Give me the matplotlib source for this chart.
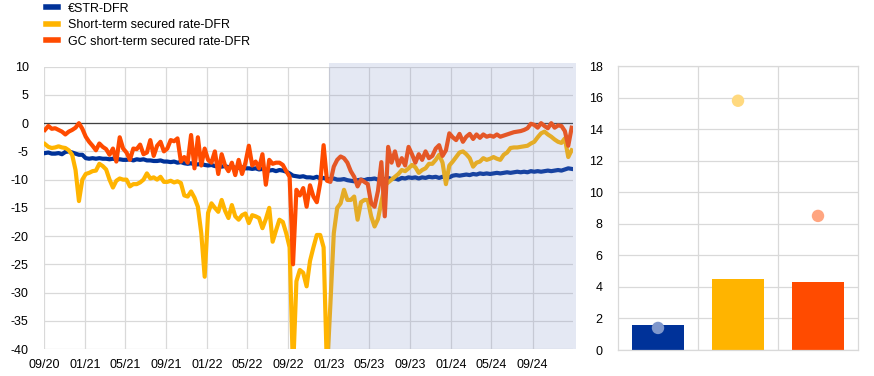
import matplotlib
matplotlib.use("Agg")
import matplotlib.pyplot as plt
import matplotlib.dates as mdates
from matplotlib.patches import Rectangle
import pandas as pd

plt.rcParams['font.family'] = ['Liberation Sans', 'DejaVu Sans']
plt.rcParams['font.size'] = 9
plt.rcParams['axes.unicode_minus'] = False

# spreads to the DFR, basis points, three readings per month, Sep 2020 - Dec 2024
estr = [
    -5.3, -5.2, -5.4, -5.4, -5.3, -5.5, -5.1, -5.0, -5.2, -5.4, -5.6, -5.6,
    -6.2, -6.3, -6.2, -6.3, -6.2, -6.3, -6.3, -6.4, -6.3, -6.4, -6.4, -6.5,
    -6.5, -6.4, -6.6, -6.4, -6.5, -6.4, -6.6, -6.6, -6.7, -6.7, -6.6, -6.8,
    -6.8, -6.9, -6.8, -7.0, -6.9, -7.1, -7.2, -7.1, -7.3, -7.3, -7.2, -7.4,
    -7.5, -7.4, -7.6, -7.6, -7.7, -7.6, -7.8, -7.7, -7.9, -7.9, -7.8, -8.0,
    -8.0, -8.1, -8.0, -8.2, -8.1, -8.3, -8.4, -8.3, -8.5, -8.3, -8.4, -8.6,
    -8.9, -9.3, -9.4, -9.5, -9.4, -9.6, -9.6, -9.7, -9.5, -9.8, -9.7, -9.9,
    -9.9, -9.8, -10.0, -10.0, -9.9, -10.1, -10.2, -10.3, -10.1, -10.0, -10.1, -9.9,
    -9.9, -9.8, -10.0, -9.8, -9.9, -9.7, -9.9, -9.8, -10.0, -9.7, -9.8, -9.6,
    -9.7, -9.6, -9.8, -9.6, -9.7, -9.5, -9.6, -9.5, -9.7, -9.5, -9.4, -9.6,
    -9.3, -9.2, -9.3, -9.2, -9.1, -9.2, -9.0, -9.1, -8.9, -9.0, -8.9, -9.0,
    -8.9, -8.8, -8.9, -8.8, -8.7, -8.8, -8.7, -8.6, -8.7, -8.6, -8.7, -8.5,
    -8.6, -8.5, -8.6, -8.5, -8.4, -8.5, -8.4, -8.3, -8.4, -8.2, -8.0, -8.1,
]

str_rate = [
    -3.7, -4.2, -4.4, -4.3, -4.1, -4.3, -4.4, -4.8, -5.6, -8.3, -13.8, -10.0,
    -9.0, -8.8, -8.5, -8.4, -7.2, -7.6, -8.2, -10.0, -11.4, -10.2, -9.8, -10.0,
    -10.0, -11.2, -10.8, -10.8, -10.5, -10.0, -8.9, -9.8, -9.6, -10.0, -9.5, -10.4,
    -10.4, -10.2, -10.5, -10.3, -10.6, -12.8, -13.0, -12.1, -13.2, -14.8, -19.5, -27.2,
    -15.9, -14.2, -15.0, -15.7, -13.6, -15.5, -16.8, -14.5, -16.5, -17.1, -16.3, -16.0,
    -17.7, -16.3, -16.5, -16.8, -18.6, -17.0, -15.0, -21.0, -19.0, -17.1, -17.5, -19.5,
    -22.0, -44.0, -28.0, -26.0, -26.5, -28.9, -24.4, -22.0, -19.8, -19.8, -22.0, -44.0,
    -32.0, -19.5, -15.0, -14.2, -11.8, -13.6, -13.6, -13.0, -17.1, -14.0, -13.6, -13.6,
    -16.5, -18.3, -17.0, -14.0, -11.0, -10.5, -10.0, -9.5, -9.0, -8.3, -8.5, -8.0,
    -7.4, -7.8, -8.8, -8.3, -8.0, -7.2, -7.2, -6.5, -5.6, -7.0, -10.8, -7.5,
    -6.8, -6.0, -5.2, -5.0, -5.5, -6.2, -7.7, -7.0, -6.8, -6.2, -6.5, -6.3,
    -6.0, -6.3, -6.5, -5.6, -5.2, -4.4, -4.3, -4.3, -4.2, -4.1, -4.0, -3.6,
    -3.3, -2.5, -1.8, -1.5, -2.0, -2.4, -2.9, -3.3, -3.5, -2.7, -6.0, -4.8,
]

gc_rate = [
    -1.2, -0.5, -1.0, -0.9, -1.2, -1.5, -2.0, -1.5, -1.2, -0.8, 0.0, -1.0,
    -2.4, -3.3, -4.0, -4.8, -3.6, -4.2, -4.6, -5.6, -4.5, -6.8, -2.5, -4.5,
    -5.2, -6.5, -4.5, -4.6, -3.8, -5.5, -5.2, -3.0, -5.8, -4.0, -3.3, -5.0,
    -4.5, -3.0, -3.2, -2.7, -6.8, -6.0, -7.0, -2.1, -8.0, -2.5, -7.5, -4.5,
    -6.5, -7.0, -5.0, -9.0, -5.5, -7.5, -8.5, -7.0, -9.2, -6.5, -9.0, -7.0,
    -4.0, -7.5, -6.8, -8.0, -5.5, -10.9, -6.5, -7.2, -7.0, -7.0, -7.4, -8.5,
    -9.5, -25.0, -11.8, -12.8, -11.5, -14.8, -11.0, -13.0, -14.0, -10.6, -3.9, -10.2,
    -10.4, -7.7, -6.5, -5.9, -6.2, -7.0, -8.5, -9.5, -11.2, -10.0, -10.4, -10.8,
    -14.2, -14.8, -12.0, -6.9, -16.5, -4.2, -7.0, -5.0, -7.5, -6.2, -7.5, -4.2,
    -5.5, -7.0, -5.5, -6.5, -5.0, -6.2, -5.8, -4.5, -3.9, -5.8, -4.8, -1.8,
    -2.5, -3.0, -1.9, -3.3, -2.4, -1.9, -2.8, -2.0, -2.6, -2.0, -2.4, -2.2,
    -2.4, -2.0, -2.4, -2.2, -2.0, -1.8, -1.6, -1.5, -1.4, -1.2, -0.9, -0.1,
    -0.3, -0.8, 0.0, -0.5, -0.9, 0.0, -0.8, -0.4, -0.5, -1.4, -4.0, -0.8,
]

series_labels = ['€STR-DFR', 'Short-term secured rate-DFR', 'GC short-term secured rate-DFR']
series_colors = ['#003299', '#ffb400', '#ff4b00']

# right panel: bars and dots
bar_values = [1.6, 4.5, 4.3]
dot_values = [1.4, 15.8, 8.5]
dot_colors = ['#7f97cc', '#ffd97f', '#ffa580']

shade_start = pd.Timestamp('2023-01-01')
x_start = pd.Timestamp('2020-09-01')
x_end = pd.Timestamp('2024-12-31')

fig = plt.figure(figsize=(8.74, 3.76), dpi=100)
ax = fig.add_axes([0.0503, 0.0718, 0.6053, 0.7508])
ax2 = fig.add_axes([0.7071, 0.0691, 0.2746, 0.7553])

grid_color = '#d9d9d9'

for vals, lab, col in zip([estr, str_rate, gc_rate], series_labels, series_colors):
    dates = pd.date_range('2020-09-04', '2024-12-27', periods=len(vals))
    ax.plot(dates, vals, color=col, lw=3.0, label=lab, solid_joinstyle='round')

ax.axhline(0, color='#404040', lw=0.9, zorder=1)
ax.set_xlim(x_start, x_end)
ax.set_ylim(-40, 10)
ax.set_yticks(range(-40, 11, 5))
ax.xaxis.set_major_locator(mdates.MonthLocator(bymonth=[1, 5, 9]))
ax.xaxis.set_major_formatter(mdates.DateFormatter('%m/%y'))
ax.grid(True, color=grid_color, lw=0.9, zorder=0)
ax.set_axisbelow(True)
ax.tick_params(length=0, labelsize=9, colors='#000000')
ax.tick_params(axis='x', pad=7)
ax.tick_params(axis='y', pad=11)
for sp in ax.spines.values():
    sp.set_visible(False)

# shaded period drawn over the lines
x0 = mdates.date2num(shade_start)
x1 = mdates.date2num(x_end)
xa = (x0 - mdates.date2num(x_start)) / (x1 - mdates.date2num(x_start))
ax.add_patch(Rectangle((xa, 0), 1.005 - xa, 1.012, transform=ax.transAxes,
                       facecolor='#7a8cc4', alpha=0.2, edgecolor='none',
                       clip_on=False, zorder=5))

leg = fig.legend(loc='upper left', bbox_to_anchor=(0.051, 0.996), frameon=False,
                 fontsize=9, handlelength=1.0, handletextpad=0.75,
                 labelspacing=0.36, borderpad=0.1, borderaxespad=0)
for h in leg.get_lines():
    h.set_linewidth(4)

# right panel
pos = range(len(bar_values))
ax2.bar(pos, bar_values, width=0.66, color=series_colors, zorder=2)
ax2.scatter(pos, dot_values, s=80, color=dot_colors, zorder=3, linewidths=0)
ax2.set_xlim(-0.5, 2.5)
ax2.set_ylim(0, 18)
ax2.set_yticks(range(0, 19, 2))
ax2.set_xticks([])
ax2.set_xticks([0.5, 1.5], minor=True)
ax2.grid(True, which='major', axis='y', color=grid_color, lw=0.9, zorder=0)
ax2.grid(True, which='minor', axis='x', color=grid_color, lw=0.9, zorder=0)
ax2.set_axisbelow(True)
ax2.tick_params(which='both', length=0, labelsize=9)
ax2.tick_params(axis='y', pad=11)
for sp in ax2.spines.values():
    sp.set_color(grid_color)
    sp.set_linewidth(0.9)

fig.savefig('out.png', dpi=100)
